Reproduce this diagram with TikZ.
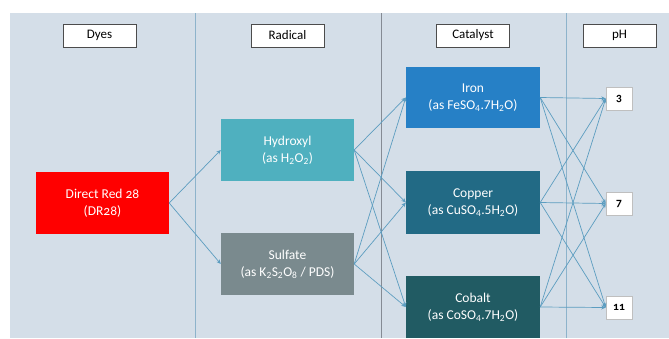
\documentclass[tikz,border=0pt]{standalone}
\usepackage{fontspec}
\setmainfont{Carlito}
\newfontfamily\oldnum[Numbers=OldStyle]{Carlito}
\usetikzlibrary{arrows.meta}
\definecolor{bg}{HTML}{D4DEE8}
\definecolor{divA}{HTML}{8DB3CB}
\definecolor{divB}{HTML}{858B94}
\definecolor{cred}{HTML}{FF0000}
\definecolor{chyd}{HTML}{4FB0BF}
\definecolor{csul}{HTML}{7A8A8E}
\definecolor{ciron}{HTML}{2680C6}
\definecolor{ccop}{HTML}{226A85}
\definecolor{ccob}{HTML}{215B63}
\definecolor{arr}{HTML}{5C9DC0}
\tikzset{
  hdr/.style={draw=black!70, fill=white, line width=0.8pt, minimum width=73pt, minimum height=23pt, inner sep=0pt, font=\fontsize{13}{15}\selectfont},
  cbox/.style={fill=#1, text=white, minimum width=133pt, minimum height=62pt, inner sep=0pt, align=center, font=\fontsize{13.5}{17}\selectfont},
  phbox/.style={draw=black!25, fill=white, line width=0.5pt, minimum width=26pt, minimum height=23pt, inner sep=0pt, font=\oldnum\fontsize{11.5}{12}\selectfont\bfseries},
  link/.style={draw=arr, line width=0.7pt, -{Stealth[length=4.5pt,width=4pt]}},
}
\begin{document}
\begin{tikzpicture}[x=1pt,y=-1pt]
\useasboundingbox (0,0) rectangle (669,338);
\clip (0,0) rectangle (669,338);
\fill[bg] (9.5,13) rectangle (669,338);
\draw[divA, line width=0.8pt] (195,13) -- (195,338);
\draw[divB, line width=0.9pt] (381,13) -- (381,338);
\draw[divA, line width=0.8pt] (566,13) -- (566,338);

\node[hdr] (hdyes) at (99.5,35.5) {Dyes};
\node[hdr] (hrad) at (287.5,35.5) {Radical};
\node[hdr] (hcat) at (473,35.5) {Catalyst};
\node[hdr] (hph) at (619.5,35.5) {pH};

\node[cbox=cred, font=\oldnum\fontsize{13.5}{17}\selectfont] (dr) at (102.5,203) {Direct Red 28\\(DR28)};
\node[cbox=chyd] (hyd) at (287.5,150) {Hydroxyl\\(as H\textsubscript{2}O\textsubscript{2})};
\node[cbox=csul] (sul) at (287.5,264) {Sulfate\\(as K\textsubscript{2}S\textsubscript{2}O\textsubscript{8} / PDS)};
\node[cbox=ciron, minimum width=134pt, minimum height=61pt] (fe) at (473,97.5) {Iron\\(as FeSO\textsubscript{4}.7H\textsubscript{2}O)};
\node[cbox=ccop, minimum width=134pt, minimum height=63pt] (cu) at (473,202.5) {Copper\\(as CuSO\textsubscript{4}.5H\textsubscript{2}O)};
\node[cbox=ccob, minimum width=134pt, minimum height=62pt] (co) at (473,307) {Cobalt\\(as CoSO\textsubscript{4}.7H\textsubscript{2}O)};

\node[phbox] (p3) at (619,98.5) {3};
\node[phbox] (p7) at (619,203.5) {7};
\node[phbox] (p11) at (619,307.5) {11};

\draw[link] (dr.east) -- (hyd.west);
\draw[link] (dr.east) -- (sul.west);
\foreach \r in {hyd,sul} {
  \foreach \c in {fe,cu,co} {
    \draw[link] (\r.east) -- (\c.west);
  }
}
\foreach \c in {fe,cu,co} {
  \foreach \p in {p3,p7,p11} {
    \draw[link] (\c.east) -- (\p.west);
  }
}
\end{tikzpicture}
\end{document}
